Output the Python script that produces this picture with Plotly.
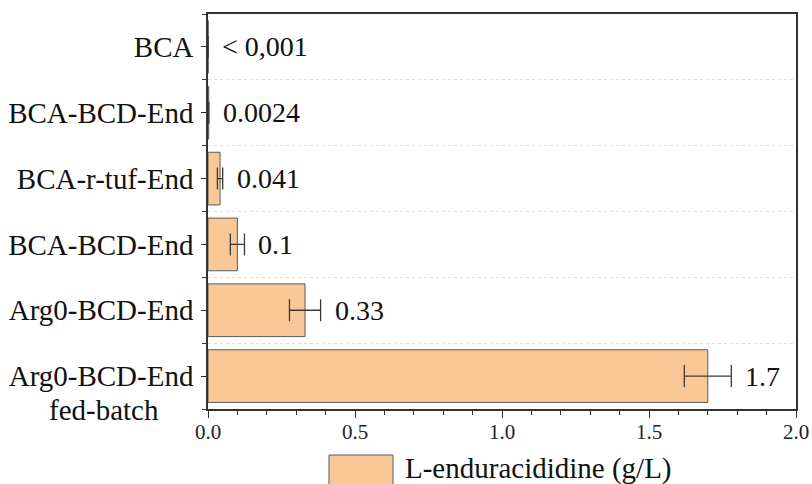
import plotly.graph_objects as go

categories = ["BCA", "BCA-BCD-End", "BCA-r-tuf-End", "BCA-BCD-End", "Arg0-BCD-End", "Arg0-BCD-End"]
sub_label = "fed-batch"
values = [0.0005, 0.0024, 0.041, 0.10, 0.33, 1.70]
errors = [0.0, 0.0006, 0.009, 0.024, 0.053, 0.08]
value_labels = ["< 0,001", "0.0024", "0.041", "0.1", "0.33", "1.7"]
legend_name = "L-enduracididine (g/L)"
x_ticks = [0.0, 0.5, 1.0, 1.5, 2.0]

positions = list(range(len(categories)))
FONT = "Liberation Serif, Times New Roman, serif"
BAR_FILL = "#FAC896"
BAR_LINE = "#5a5a5a"

fig = go.Figure()
fig.add_trace(go.Bar(
    x=values, y=positions, orientation="h", width=0.8,
    marker=dict(color=BAR_FILL, line=dict(color=BAR_LINE, width=1)),
    error_x=dict(type="data", array=errors, visible=True, color="#3a3a3a", thickness=1.3, width=11),
    name=legend_name, showlegend=False,
))

annotations = []
for p, v, e, t in zip(positions, values, errors, value_labels):
    annotations.append(dict(x=v + e, y=p, xref="x", yref="y", text=t, showarrow=False,
                            xanchor="left", yanchor="middle", xshift=12,
                            font=dict(family=FONT, size=28, color="#111")))
annotations.append(dict(x=-0.177, y=positions[-1], xref="paper", yref="y", text=sub_label,
                        showarrow=False, xanchor="center", yanchor="middle", yshift=-34,
                        font=dict(family=FONT, size=29, color="#111")))
annotations.append(dict(x=0.3316, y=-0.15, xref="paper", yref="paper", text=legend_name,
                        showarrow=False, xanchor="left", yanchor="middle",
                        font=dict(family=FONT, size=29, color="#111")))

fig.update_layout(
    width=812, height=484,
    margin=dict(l=208, r=16, t=14, b=75),
    paper_bgcolor="white", plot_bgcolor="white",
    font=dict(family=FONT, color="#111"),
    annotations=annotations,
    bargap=0.2,
    shapes=[dict(type="rect", xref="paper", yref="paper", x0=0.2058, x1=0.3146, y0=-0.22, y1=-0.1165,
                 fillcolor=BAR_FILL, line=dict(color=BAR_LINE, width=1), layer="above")],
)
fig.update_xaxes(
    range=[0, 2], tickvals=x_ticks, ticktext=[f"{t:.1f}" for t in x_ticks],
    ticks="outside", ticklen=7, tickwidth=1.2, tickcolor="#333",
    showline=True, linecolor="#333", linewidth=1.5, mirror=True,
    showgrid=False, zeroline=False, automargin=False,
    tickfont=dict(family=FONT, size=21, color="#222"),
    ticklabelstandoff=-4,
    minor=dict(dtick=0.1, ticks="outside", ticklen=4, tickcolor="#333", showgrid=False),
)
fig.update_yaxes(
    range=[len(categories) - 0.5, -0.5],
    tickvals=positions, ticktext=categories,
    ticks="outside", ticklen=5, tickwidth=1.2, tickcolor="#333",
    showline=True, linecolor="#333", linewidth=1.5, mirror=True,
    showgrid=False, zeroline=False, automargin=False,
    tickfont=dict(family=FONT, size=29, color="#111"),
    ticklabelstandoff=2,
    minor=dict(tickmode="array", tickvals=[p - 0.5 for p in positions] + [positions[-1] + 0.5],
               ticks="outside", ticklen=4, tickcolor="#333",
               showgrid=True, gridcolor="#dddddd", griddash="3px,3px", gridwidth=1),
)

fig.write_html("out.html")
